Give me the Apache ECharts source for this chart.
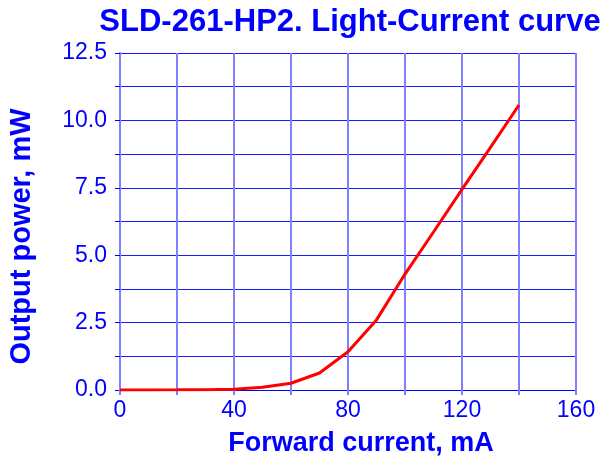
<!DOCTYPE html>
<html>
<head>
<meta charset="utf-8">
<script src="https://cdn.jsdelivr.net/npm/echarts@6/dist/echarts.min.js"></script>
<style>
  html, body { margin: 0; padding: 0; background: #fff; }
  #chart { width: 609px; height: 460px; }
</style>
</head>
<body>
<div id="chart"></div>
<script>
// forward current, mA
const currents = [0, 10, 20, 30, 40, 50, 60, 70, 80, 90, 100, 110, 120, 130, 140]
// output power, mW
const power = [0, 0.003, 0.006, 0.012, 0.03, 0.1, 0.25, 0.63, 1.42, 2.6, 4.3, 5.86, 7.44, 9.0, 10.57]
const xLabels = [0, 40, 80, 120, 160]
const yLabels = [0, 2.5, 5, 7.5, 10, 12.5]

const blue = '#0000ff'
const lightBlue = '#7f7fff'
const font = 'Liberation Sans, Arial, sans-serif'

const chart = echarts.init(document.getElementById('chart'))
chart.setOption({
  animation: false,
  title: {
    text: 'SLD-261-HP2. Light-Current curve',
    left: 345,
    textAlign: 'center',
    top: 2,
    textStyle: { color: blue, fontSize: 31, fontWeight: 'bold', fontFamily: font }
  },
  grid: { left: 120, right: 33, top: 53, bottom: 70, outerBoundsMode: 'none', containLabel: false },
  xAxis: {
    type: 'value',
    min: 0,
    max: 160,
    interval: 20,
    name: 'Forward current, mA',
    nameLocation: 'middle',
    nameGap: 40,
    nameTextStyle: { color: blue, fontSize: 27, fontWeight: 'bold', fontFamily: font, padding: [0, 0, 0, 26] },
    axisLine: { lineStyle: { color: blue, width: 1 } },
    axisTick: { show: true, length: 5, lineStyle: { color: lightBlue, width: 2 } },
    axisLabel: {
      color: blue, fontSize: 23, fontFamily: font, margin: 9,
      formatter: v => xLabels.includes(v) ? String(v) : ''
    },
    splitLine: { show: true, lineStyle: { color: lightBlue, width: 2 } }
  },
  yAxis: {
    type: 'value',
    min: 0,
    max: 12.5,
    interval: 1.25,
    name: 'Output power, mW',
    nameLocation: 'middle',
    nameGap: 84,
    nameTextStyle: { color: blue, fontSize: 29, fontWeight: 'bold', fontFamily: font, padding: [0, 30, 0, 0] },
    axisLine: { show: true, lineStyle: { color: lightBlue, width: 2 } },
    axisTick: { show: true, length: 5, lineStyle: { color: blue, width: 1 } },
    axisLabel: {
      color: blue, fontSize: 23, fontFamily: font, margin: 13,
      formatter: v => yLabels.includes(v) ? v.toFixed(1) : ''
    },
    splitLine: { show: true, lineStyle: { color: '#1a1aff', width: 1 } }
  },
  series: [{
    type: 'line',
    data: currents.map((c, i) => [c, power[i]]),
    showSymbol: false,
    lineStyle: { color: '#ff0000', width: 3 },
    z: 5
  }]
})
</script>
</body>
</html>
